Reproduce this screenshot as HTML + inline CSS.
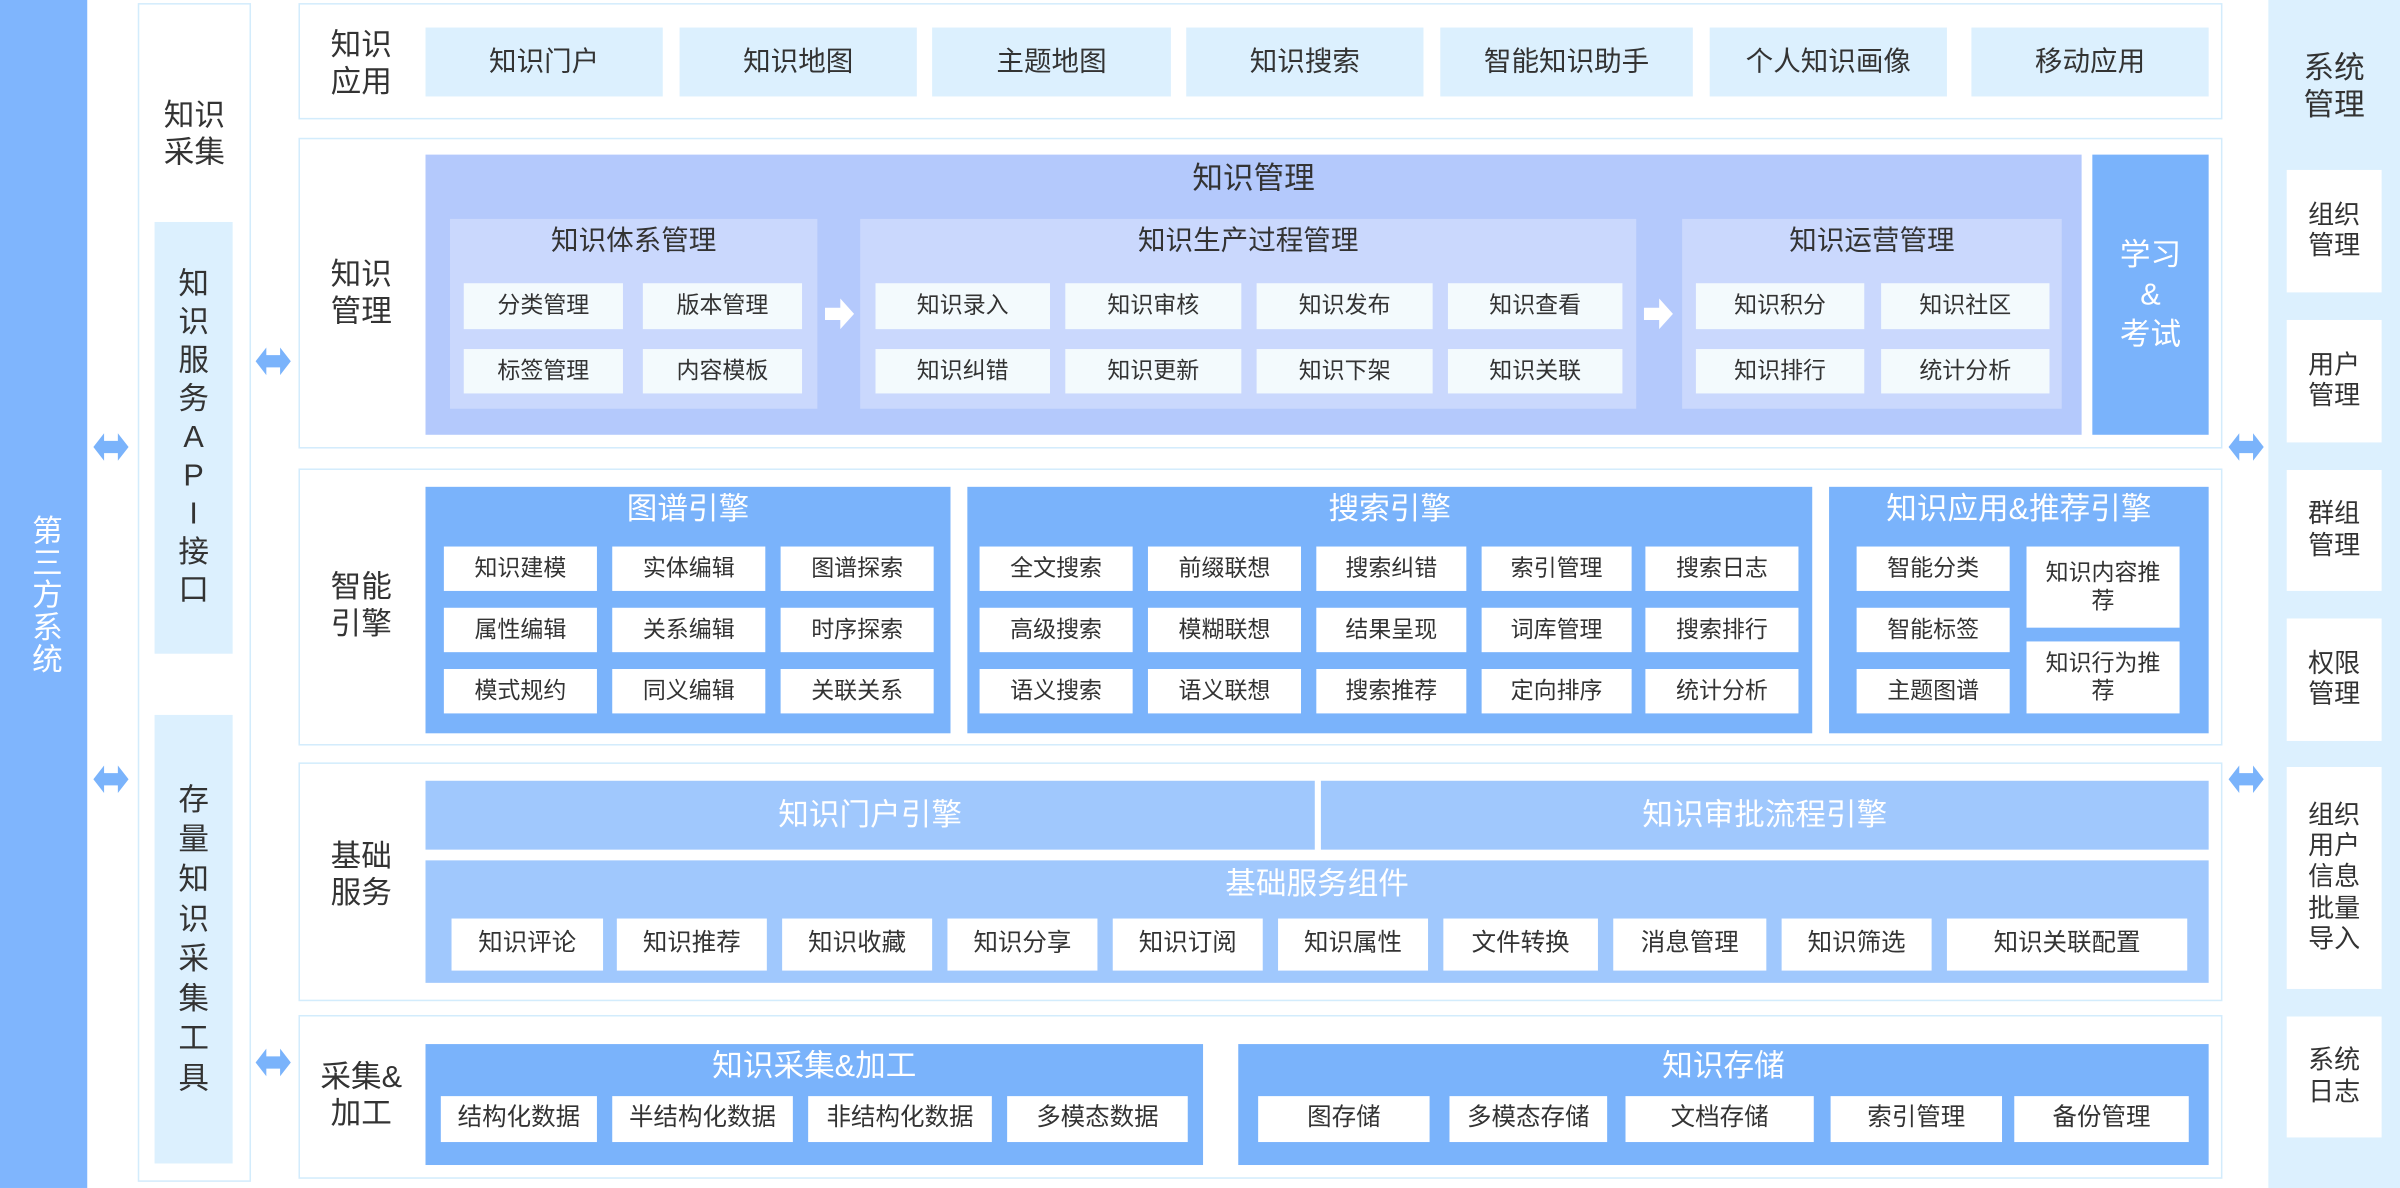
<!DOCTYPE html>
<html><head><meta charset="utf-8"><style>
html,body{margin:0;padding:0;background:#fff;width:2400px;height:1188px;overflow:hidden}
#w{position:absolute;left:0;top:0;width:1568px;height:776px;transform:scale(1.5306,1.5309);transform-origin:0 0;font-family:"Liberation Sans","Noto Sans CJK SC",sans-serif;color:#333}
.a{position:absolute;display:flex;align-items:center;justify-content:center;text-align:center;box-sizing:border-box;line-height:1.2}
.row{border:1.5px solid #d3ecfc;background:#fff}
.lb{font-size:20px;color:#333}
.i1{background:#dcf0fe;font-size:18px}
.km{background:#cad8fd}
.ki{background:#f3fafd;font-size:15px}
.eng{background:#7ab3fb;color:#fff;font-size:20px}
.wi{background:#fff;font-size:15px;color:#333}
.bs{background:#a0c8fd;color:#fff;font-size:20px}
.t{position:absolute;color:#fff;font-size:20px;text-align:center}
.rb{background:#fff;font-size:17px}
</style></head><body><div id="w">

<!-- left third-party -->
<div class="a" style="left:0;top:0;width:57px;height:776px;background:#7fb5fd;color:#fff;font-size:20px;writing-mode:vertical-rl;letter-spacing:1px">第三方系统</div>

<!-- column 2 -->
<div class="a" style="left:90px;top:2px;width:74px;height:770px;border:1.5px solid #d3ecfc"></div>
<div class="a lb" style="left:90px;top:60px;width:74px;height:56px">知识<br>采集</div>
<div class="a" style="left:101px;top:145px;width:51px;height:282px;background:#dcf0fe;font-size:20px;line-height:1.25">知<br>识<br>服<br>务<br>A<br>P<br>I<br>接<br>口</div>
<div class="a" style="left:101px;top:467px;width:51px;height:293px;background:#dcf0fe;font-size:20px;line-height:1.3">存<br>量<br>知<br>识<br>采<br>集<br>工<br>具</div>

<!-- arrows -->
<svg style="position:absolute;left:0;top:0" width="1568" height="776">
<defs><polygon id="da" points="0,9 7,0 7,5 16,5 16,0 23,9 16,18 16,13 7,13 7,18" fill="#7ab3fb"/>
<polygon id="wa" points="0,6 10,6 10,0 19,10 10,20 10,14 0,14" fill="#fff"/></defs>
<use href="#da" x="61" y="283"/><use href="#da" x="61" y="500"/>
<use href="#da" x="167" y="227"/><use href="#da" x="167" y="685"/>
<use href="#da" x="1456" y="283"/><use href="#da" x="1456" y="500"/>
</svg>

<!-- Row1 知识应用 -->
<div class="a row" style="left:195px;top:2px;width:1257px;height:76px"></div>
<div class="a lb" style="left:205px;top:15px;width:62px;height:54px">知识<br>应用</div>
<div class="a i1" style="left:278px;top:18px;width:155px;height:45px">知识门户</div>
<div class="a i1" style="left:444px;top:18px;width:155px;height:45px">知识地图</div>
<div class="a i1" style="left:609px;top:18px;width:156px;height:45px">主题地图</div>
<div class="a i1" style="left:775px;top:18px;width:155px;height:45px">知识搜索</div>
<div class="a i1" style="left:941px;top:18px;width:165px;height:45px">智能知识助手</div>
<div class="a i1" style="left:1117px;top:18px;width:155px;height:45px">个人知识画像</div>
<div class="a i1" style="left:1288px;top:18px;width:155px;height:45px">移动应用</div>

<!-- Row2 知识管理 -->
<div class="a row" style="left:195px;top:90px;width:1257px;height:203px"></div>
<div class="a lb" style="left:205px;top:165px;width:62px;height:54px">知识<br>管理</div>
<div class="a" style="left:278px;top:101px;width:1082px;height:183px;background:#b4c9fc"></div>
<div class="a" style="left:278px;top:104px;width:1082px;height:26px;font-size:20px">知识管理</div>
<div class="a km" style="left:294px;top:143px;width:240px;height:124px"></div>
<div class="a" style="left:294px;top:145px;width:240px;height:26px;font-size:18px">知识体系管理</div>
<div class="a km" style="left:562px;top:143px;width:507px;height:124px"></div>
<div class="a" style="left:562px;top:145px;width:507px;height:26px;font-size:18px">知识生产过程管理</div>
<div class="a km" style="left:1099px;top:143px;width:248px;height:124px"></div>
<div class="a" style="left:1099px;top:145px;width:248px;height:26px;font-size:18px">知识运营管理</div>
<div class="a ki" style="left:303px;top:185px;width:104px;height:30px">分类管理</div>
<div class="a ki" style="left:420px;top:185px;width:104px;height:30px">版本管理</div>
<div class="a ki" style="left:303px;top:228px;width:104px;height:29px">标签管理</div>
<div class="a ki" style="left:420px;top:228px;width:104px;height:29px">内容模板</div>
<div class="a ki" style="left:572px;top:185px;width:114px;height:30px">知识录入</div>
<div class="a ki" style="left:696px;top:185px;width:115px;height:30px">知识审核</div>
<div class="a ki" style="left:821px;top:185px;width:115px;height:30px">知识发布</div>
<div class="a ki" style="left:946px;top:185px;width:114px;height:30px">知识查看</div>
<div class="a ki" style="left:572px;top:228px;width:114px;height:29px">知识纠错</div>
<div class="a ki" style="left:696px;top:228px;width:115px;height:29px">知识更新</div>
<div class="a ki" style="left:821px;top:228px;width:115px;height:29px">知识下架</div>
<div class="a ki" style="left:946px;top:228px;width:114px;height:29px">知识关联</div>
<div class="a ki" style="left:1108px;top:185px;width:110px;height:30px">知识积分</div>
<div class="a ki" style="left:1229px;top:185px;width:110px;height:30px">知识社区</div>
<div class="a ki" style="left:1108px;top:228px;width:110px;height:29px">知识排行</div>
<div class="a ki" style="left:1229px;top:228px;width:110px;height:29px">统计分析</div>
<svg style="position:absolute;left:539px;top:195px" width="20" height="20"><use href="#wa"/></svg>
<svg style="position:absolute;left:1074px;top:195px" width="20" height="20"><use href="#wa"/></svg>
<div class="a eng" style="left:1367px;top:101px;width:76px;height:183px;line-height:1.3">学习<br>&amp;<br>考试</div>

<!-- Row3 智能引擎 -->
<div class="a row" style="left:195px;top:306px;width:1257px;height:181px"></div>
<div class="a lb" style="left:205px;top:369px;width:62px;height:54px">智能<br>引擎</div>
<div class="a eng" style="left:278px;top:318px;width:343px;height:161px"></div>
<div class="a eng" style="left:632px;top:318px;width:552px;height:161px"></div>
<div class="a eng" style="left:1195px;top:318px;width:248px;height:161px"></div>
<div class="a" style="left:278px;top:319px;width:343px;height:28px;color:#fff;font-size:20px">图谱引擎</div>
<div class="a" style="left:632px;top:319px;width:552px;height:28px;color:#fff;font-size:20px">搜索引擎</div>
<div class="a" style="left:1195px;top:319px;width:248px;height:28px;color:#fff;font-size:20px">知识应用&amp;推荐引擎</div>
<div class="a wi" style="left:290px;top:357px;width:100px;height:29px">知识建模</div>
<div class="a wi" style="left:400px;top:357px;width:100px;height:29px">实体编辑</div>
<div class="a wi" style="left:510px;top:357px;width:100px;height:29px">图谱探索</div>
<div class="a wi" style="left:290px;top:397px;width:100px;height:29px">属性编辑</div>
<div class="a wi" style="left:400px;top:397px;width:100px;height:29px">关系编辑</div>
<div class="a wi" style="left:510px;top:397px;width:100px;height:29px">时序探索</div>
<div class="a wi" style="left:290px;top:437px;width:100px;height:29px">模式规约</div>
<div class="a wi" style="left:400px;top:437px;width:100px;height:29px">同义编辑</div>
<div class="a wi" style="left:510px;top:437px;width:100px;height:29px">关联关系</div>
<div class="a wi" style="left:640px;top:357px;width:100px;height:29px">全文搜索</div>
<div class="a wi" style="left:750px;top:357px;width:100px;height:29px">前缀联想</div>
<div class="a wi" style="left:860px;top:357px;width:98px;height:29px">搜索纠错</div>
<div class="a wi" style="left:968px;top:357px;width:98px;height:29px">索引管理</div>
<div class="a wi" style="left:1075px;top:357px;width:100px;height:29px">搜索日志</div>
<div class="a wi" style="left:640px;top:397px;width:100px;height:29px">高级搜索</div>
<div class="a wi" style="left:750px;top:397px;width:100px;height:29px">模糊联想</div>
<div class="a wi" style="left:860px;top:397px;width:98px;height:29px">结果呈现</div>
<div class="a wi" style="left:968px;top:397px;width:98px;height:29px">词库管理</div>
<div class="a wi" style="left:1075px;top:397px;width:100px;height:29px">搜索排行</div>
<div class="a wi" style="left:640px;top:437px;width:100px;height:29px">语义搜索</div>
<div class="a wi" style="left:750px;top:437px;width:100px;height:29px">语义联想</div>
<div class="a wi" style="left:860px;top:437px;width:98px;height:29px">搜索推荐</div>
<div class="a wi" style="left:968px;top:437px;width:98px;height:29px">定向排序</div>
<div class="a wi" style="left:1075px;top:437px;width:100px;height:29px">统计分析</div>
<div class="a wi" style="left:1213px;top:357px;width:100px;height:29px">智能分类</div>
<div class="a wi" style="left:1213px;top:397px;width:100px;height:29px">智能标签</div>
<div class="a wi" style="left:1213px;top:437px;width:100px;height:29px">主题图谱</div>
<div class="a wi" style="left:1324px;top:357px;width:100px;height:53px">知识内容推<br>荐</div>
<div class="a wi" style="left:1324px;top:419px;width:100px;height:47px">知识行为推<br>荐</div>

<!-- Row4 基础服务 -->
<div class="a row" style="left:195px;top:498px;width:1257px;height:156px"></div>
<div class="a lb" style="left:205px;top:545px;width:62px;height:54px">基础<br>服务</div>
<div class="a bs" style="left:278px;top:510px;width:581px;height:45px">知识门户引擎</div>
<div class="a bs" style="left:863px;top:510px;width:580px;height:45px">知识审批流程引擎</div>
<div class="a bs" style="left:278px;top:562px;width:1165px;height:80px"></div>
<div class="a" style="left:278px;top:564px;width:1165px;height:28px;color:#fff;font-size:20px">基础服务组件</div>
<div class="a wi" style="left:295px;top:600px;width:99px;height:34px;font-size:16px">知识评论</div>
<div class="a wi" style="left:403px;top:600px;width:98px;height:34px;font-size:16px">知识推荐</div>
<div class="a wi" style="left:511px;top:600px;width:98px;height:34px;font-size:16px">知识收藏</div>
<div class="a wi" style="left:619px;top:600px;width:98px;height:34px;font-size:16px">知识分享</div>
<div class="a wi" style="left:727px;top:600px;width:98px;height:34px;font-size:16px">知识订阅</div>
<div class="a wi" style="left:835px;top:600px;width:98px;height:34px;font-size:16px">知识属性</div>
<div class="a wi" style="left:943px;top:600px;width:101px;height:34px;font-size:16px">文件转换</div>
<div class="a wi" style="left:1054px;top:600px;width:100px;height:34px;font-size:16px">消息管理</div>
<div class="a wi" style="left:1164px;top:600px;width:98px;height:34px;font-size:16px">知识筛选</div>
<div class="a wi" style="left:1272px;top:600px;width:157px;height:34px;font-size:16px">知识关联配置</div>

<!-- Row5 采集&加工 -->
<div class="a row" style="left:195px;top:663px;width:1257px;height:107px"></div>
<div class="a lb" style="left:200px;top:689px;width:72px;height:54px">采集&amp;<br>加工</div>
<div class="a eng" style="left:278px;top:682px;width:508px;height:79px"></div>
<div class="a" style="left:278px;top:683px;width:508px;height:28px;color:#fff;font-size:20px">知识采集&amp;加工</div>
<div class="a eng" style="left:809px;top:682px;width:634px;height:79px"></div>
<div class="a" style="left:809px;top:683px;width:634px;height:28px;color:#fff;font-size:20px">知识存储</div>
<div class="a wi" style="left:288px;top:716px;width:102px;height:30px;font-size:16px">结构化数据</div>
<div class="a wi" style="left:400px;top:716px;width:118px;height:30px;font-size:16px">半结构化数据</div>
<div class="a wi" style="left:528px;top:716px;width:120px;height:30px;font-size:16px">非结构化数据</div>
<div class="a wi" style="left:658px;top:716px;width:118px;height:30px;font-size:16px">多模态数据</div>
<div class="a wi" style="left:822px;top:716px;width:112px;height:30px;font-size:16px">图存储</div>
<div class="a wi" style="left:947px;top:716px;width:103px;height:30px;font-size:16px">多模态存储</div>
<div class="a wi" style="left:1062px;top:716px;width:123px;height:30px;font-size:16px">文档存储</div>
<div class="a wi" style="left:1196px;top:716px;width:112px;height:30px;font-size:16px">索引管理</div>
<div class="a wi" style="left:1316px;top:716px;width:114px;height:30px;font-size:16px">备份管理</div>

<!-- right column -->
<div class="a" style="left:1482px;top:0;width:86px;height:776px;background:#dcf0fe"></div>
<div class="a lb" style="left:1482px;top:30px;width:86px;height:54px">系统<br>管理</div>
<div class="a rb" style="left:1494px;top:111px;width:62px;height:80px">组织<br>管理</div>
<div class="a rb" style="left:1494px;top:209px;width:62px;height:80px">用户<br>管理</div>
<div class="a rb" style="left:1494px;top:307px;width:62px;height:79px">群组<br>管理</div>
<div class="a rb" style="left:1494px;top:404px;width:62px;height:80px">权限<br>管理</div>
<div class="a rb" style="left:1494px;top:501px;width:62px;height:145px">组织<br>用户<br>信息<br>批量<br>导入</div>
<div class="a rb" style="left:1494px;top:664px;width:62px;height:79px">系统<br>日志</div>

</div></body></html>
